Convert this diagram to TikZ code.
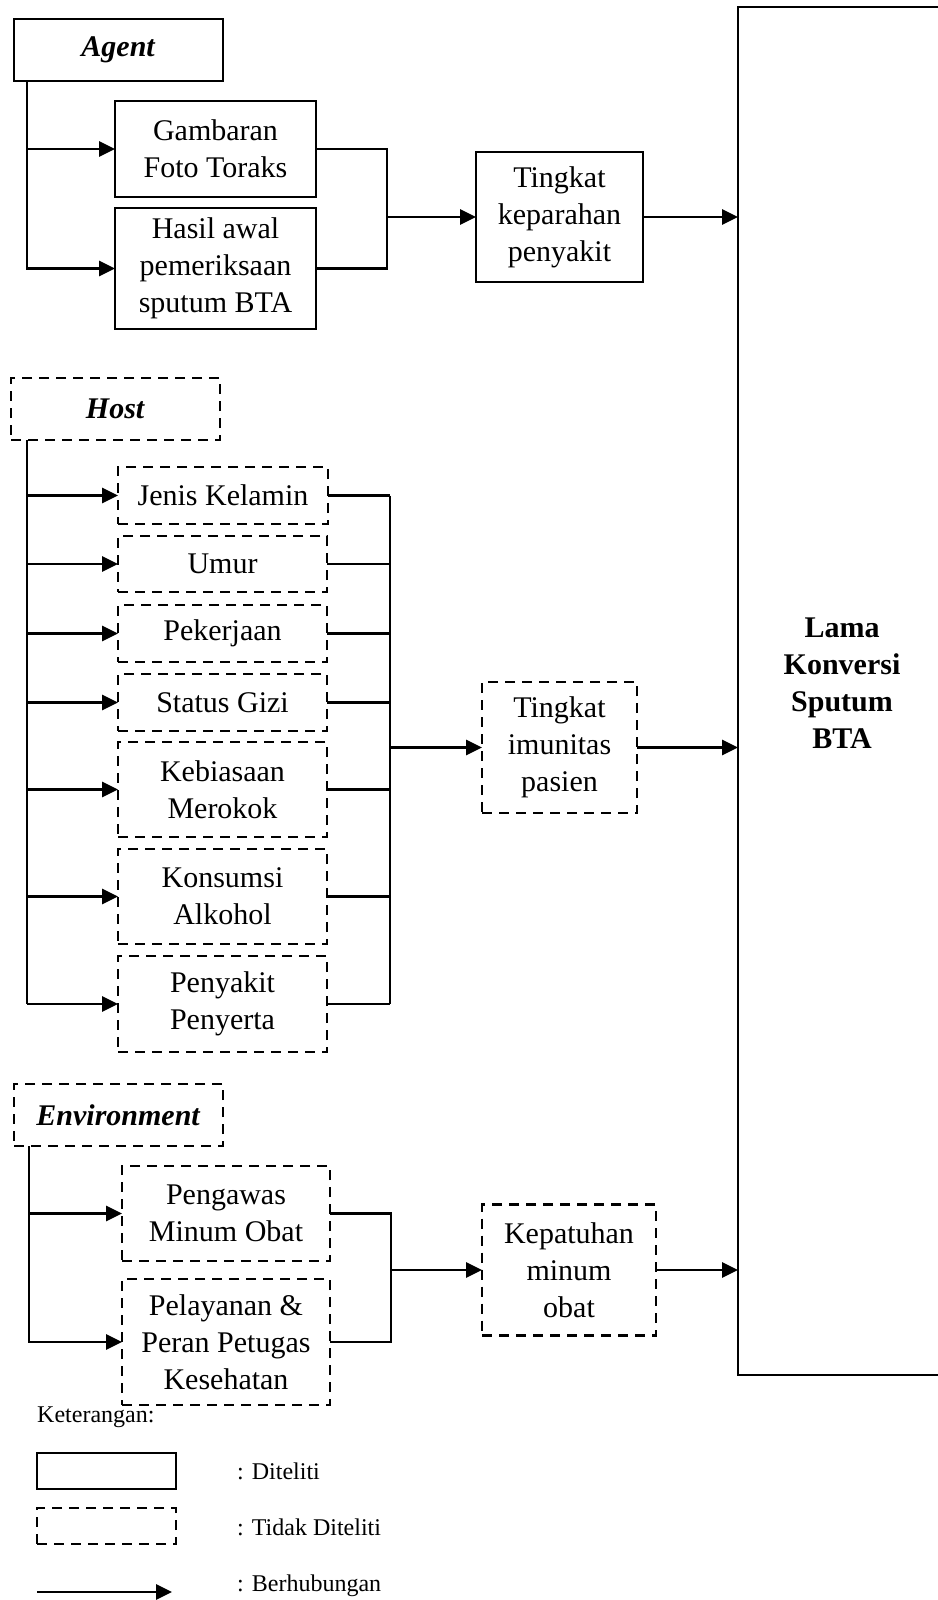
\documentclass[tikz,border=0pt]{standalone}
\usepackage{fontspec}
\setmainfont{Liberation Serif}
\usetikzlibrary{arrows.meta}
\newcommand\isi{\fontsize{30}{37}\selectfont}
\newcommand\ketsize{\fontsize{24}{28}\selectfont}
\tikzset{
    diteliti/.style={
        draw, line width=2.8pt, outer sep=0pt, inner sep=0pt,
        align=center, font=\isi
    },
    tidakditeliti/.style={
        diteliti, dash pattern=on 10pt off 7pt
    },
    ukuran/.style n args={2}{
        minimum width=#1pt, minimum height=#2pt
    },
    garis/.style={line width=2.8pt},
    hubungan/.style={
        garis, -{Triangle[length=16pt,width=15pt]}
    }
}
\begin{document}
\begin{tikzpicture}[x=1pt,y=-1pt]
\useasboundingbox (0,0) rectangle (937,1600);
% agent
\node[diteliti, ukuran={209}{62}] (agent) at (118.5,50) {\textbf{\textit{Agent}}};
\node[diteliti, ukuran={201}{96}] (gambaran) at (215.5,149) {Gambaran\\Foto Toraks};
\node[diteliti, ukuran={201}{121}] (hasil) at (215.5,268.5) {Hasil awal\\pemeriksaan\\sputum BTA};
\node[diteliti, ukuran={167}{130}] (keparahan) at (559.5,217) {Tingkat\\keparahan\\penyakit};
\node[diteliti, ukuran={208}{1368}] (lama) at (842,691) {\textbf{Lama}\\\textbf{Konversi}\\\textbf{Sputum}\\\textbf{BTA}\\[-21pt]};
\coordinate (ta) at (27,0);
\coordinate (ma) at (387,0);
\draw[hubungan] (ta |- agent.south) |- (hasil.west);
\draw[hubungan] (ta |- gambaran.west) -- (gambaran.west);
\draw[garis] (gambaran.east) -| (ma |- hasil.east) -- (hasil.east);
\draw[hubungan] (ma |- keparahan.west) -- (keparahan.west);
\draw[hubungan] (keparahan.east) -- (keparahan.east -| lama.west);
% host
\node[tidakditeliti, ukuran={209}{62}] (host) at (115.5,409) {\textbf{\textit{Host}}};
\node[tidakditeliti, ukuran={210}{57}] (jenis) at (223,495.5) {Jenis Kelamin};
\node[tidakditeliti, ukuran={209}{56}] (umur) at (222.5,564) {Umur};
\node[tidakditeliti, ukuran={209}{57}] (pekerjaan) at (222.5,633.5) {Pekerjaan};
\node[tidakditeliti, ukuran={209}{57}] (gizi) at (222.5,702.5) {Status Gizi};
\node[tidakditeliti, ukuran={209}{95}] (kebiasaan) at (222.5,789.5) {Kebiasaan\\Merokok};
\node[tidakditeliti, ukuran={209}{95}] (konsumsi) at (222.5,896.5) {Konsumsi\\Alkohol};
\node[tidakditeliti, ukuran={209}{96}] (penyakit) at (222.5,1004) {Penyakit\\Penyerta};
\node[tidakditeliti, ukuran={155}{131}] (imunitas) at (559.5,747.5) {Tingkat\\imunitas\\pasien};
\coordinate (th) at (27,0);
\coordinate (mh) at (390,0);
\draw[garis] (th |- host.south) -- (th |- penyakit.west);
\draw[garis] (mh |- jenis.east) -- (mh |- penyakit.east);
\foreach \f in {jenis,umur,pekerjaan,gizi,kebiasaan,konsumsi,penyakit} {
    \draw[hubungan] (th |- \f.west) -- (\f.west);
    \draw[garis] (\f.east) -- (mh |- \f.east);
}
\draw[hubungan] (mh |- imunitas.west) -- (imunitas.west);
\draw[hubungan] (imunitas.east) -- (imunitas.east -| lama.west);
% environment
\node[tidakditeliti, ukuran={209}{62}] (env) at (118.5,1115) {\textbf{\textit{Environment}}};
\node[tidakditeliti, ukuran={208}{95}] (pengawas) at (226,1213.5) {Pengawas\\Minum Obat};
\node[tidakditeliti, ukuran={208}{126}] (pelayanan) at (226,1342) {Pelayanan \&\\Peran Petugas\\Kesehatan};
\node[tidakditeliti, ukuran={174}{131}] (kepatuhan) at (569,1270) {Kepatuhan\\minum\\obat};
\coordinate (te) at (29,0);
\coordinate (me) at (391,0);
\draw[hubungan] (te |- env.south) |- (pelayanan.west);
\draw[hubungan] (te |- pengawas.west) -- (pengawas.west);
\draw[garis] (pengawas.east) -| (me |- pelayanan.east) -- (pelayanan.east);
\draw[hubungan] (me |- kepatuhan.west) -- (kepatuhan.west);
\draw[hubungan] (kepatuhan.east) -- (kepatuhan.east -| lama.west);
% keterangan
\node[anchor=west, font=\ketsize, inner sep=0pt] (ket) at (37,1417) {Keterangan:};
\node[diteliti, ukuran={139}{36}] (ket1) at (106.5,1471) {};
\node[tidakditeliti, ukuran={139}{36}] (ket2) at (106.5,1526) {};
\coordinate (ka) at (37,1592);
\coordinate (kb) at (172,1592);
\draw[hubungan] (ka) -- (kb);
\node[anchor=west, font=\ketsize, inner sep=0pt] (l1) at (237,1471) {: Diteliti};
\node[anchor=west, font=\ketsize, inner sep=0pt] (l2) at (237,1527) {: Tidak Diteliti};
\node[anchor=west, font=\ketsize, inner sep=0pt] (l3) at (237,1586) {: Berhubungan};
\end{tikzpicture}
\end{document}
